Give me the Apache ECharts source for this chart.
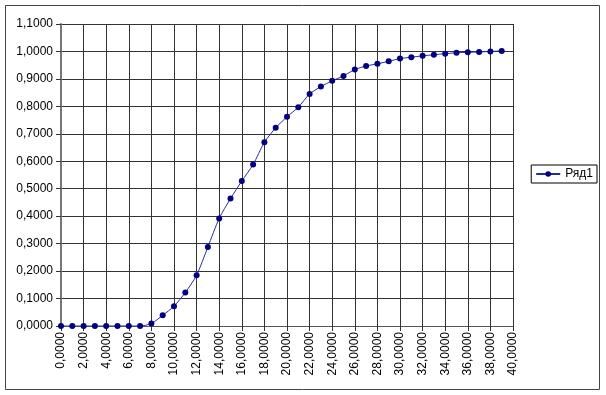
<!DOCTYPE html>
<html><head><meta charset="utf-8">
<script src="https://cdn.jsdelivr.net/npm/echarts@6/dist/echarts.min.js"></script>
<style>html,body{margin:0;padding:0;background:#fff}#c{width:606px;height:395px}</style>
</head><body><div id="c"></div>
<script>
const xValues = [0,1,2,3,4,5,6,7,8,9,10,11,12,13,14,15,16,17,18,19,20,21,22,23,24,25,26,27,28,29,30,31,32,33,34,35,36,37,38,39];
const yValues = [0,0,0,0,0,0,0,0,0.009,0.039,0.072,0.122,0.185,0.288,0.392,0.464,0.528,0.588,0.669,0.722,0.762,0.797,0.845,0.872,0.893,0.911,0.934,0.947,0.955,0.964,0.974,0.979,0.984,0.988,0.992,0.995,0.997,0.998,1.0,1.002];
const seriesName = 'Ряд1';

const fmt = v => v.toFixed(4).replace('.', ',');
const chart = echarts.init(document.getElementById('c'), null, {renderer: 'canvas'});
const font = 'Liberation Sans';
chart.setOption({
  animation: false,
  textStyle: {fontFamily: font},
  graphic: [{type: 'rect', shape: {x: 5.5, y: 5.5, width: 594, height: 384}, style: {fill: 'none', stroke: '#444', lineWidth: 1}, z: -1}],
  grid: {left: 61, right: 93, top: 24, bottom: 69, containLabel: false},
  legend: {
    data: [seriesName], right: 9, top: 165, orient: 'vertical',
    borderColor: '#000', borderWidth: 1, padding: [3, 4, 3, 4],
    itemWidth: 24, itemHeight: 7, itemGap: 0,
    textStyle: {fontFamily: font, fontSize: 12, color: '#000'}
  },
  xAxis: {
    type: 'value', min: 0, max: 40, interval: 2,
    axisLine: {show: true, onZero: false, lineStyle: {color: '#555', width: 1}},
    axisTick: {show: true, length: 5, lineStyle: {color: '#333'}},
    axisLabel: {rotate: 90, fontFamily: font, fontSize: 12, color: '#000', formatter: fmt, margin: 6},
    splitLine: {show: true, lineStyle: {color: '#333', width: 1}}
  },
  yAxis: {
    type: 'value', min: 0, max: 1.1, interval: 0.1,
    axisLine: {show: true, lineStyle: {color: '#777', width: 2}},
    axisTick: {show: true, length: 5, lineStyle: {color: '#333'}},
    axisLabel: {fontFamily: font, fontSize: 12, color: '#000', formatter: fmt, margin: 8},
    splitLine: {show: true, lineStyle: {color: '#333', width: 1}}
  },
  series: [{
    name: seriesName, type: 'line',
    data: xValues.map((x, i) => [x, yValues[i]]),
    smooth: 0.25,
    symbol: 'circle', symbolSize: 6,
    lineStyle: {color: '#2a2aa0', width: 1},
    itemStyle: {color: '#000080'}
  }]
});
</script></body></html>
